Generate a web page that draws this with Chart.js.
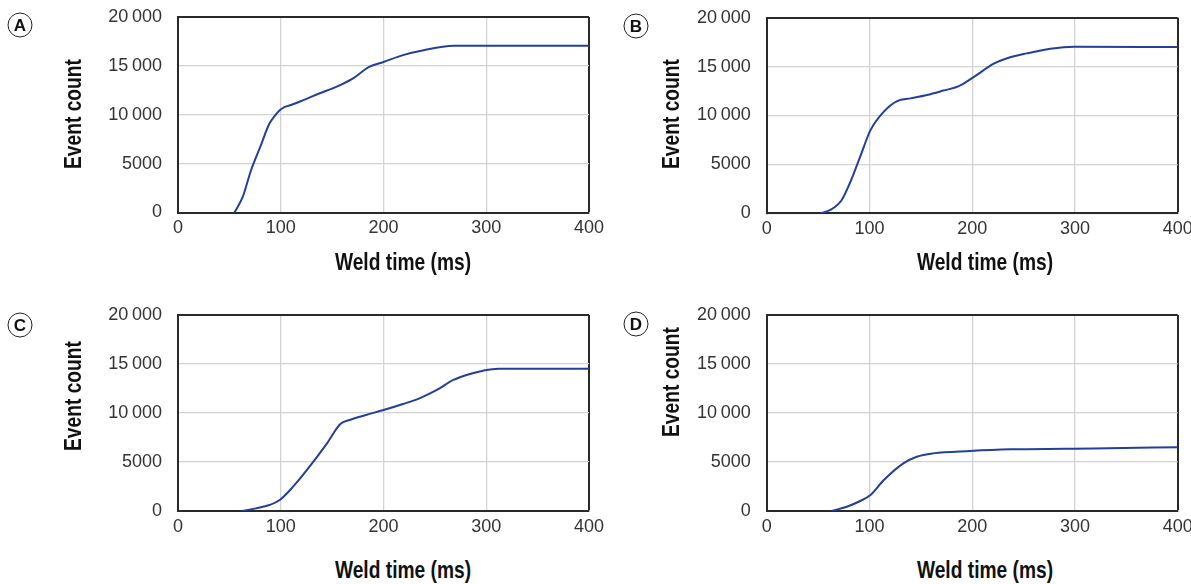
<!DOCTYPE html>
<html>
<head>
<meta charset="utf-8">
<script src="https://cdn.jsdelivr.net/npm/chart.js@4/dist/chart.umd.min.js"></script>
<style>
    body { margin: 0; background: #fff; width: 1191px; height: 584px; position: relative; overflow: hidden; }
    canvas { position: absolute; }
    .painel-letra {
        position: absolute; width: 23px; height: 23px; border: 1.4px solid #222; border-radius: 50%;
        font: bold 17px 'Liberation Sans', Arial, sans-serif; color: #111;
        display: flex; align-items: center; justify-content: center;
        transform: translate(-50%, -50%);
    }
    .titulo-eixo {
        position: absolute; white-space: nowrap; color: #111;
        font: bold 24px 'Liberation Sans', Arial, sans-serif;
    }
    .titulo-y { transform: translate(-50%, -50%) rotate(-90deg) scaleX(0.8); }
    .titulo-x { transform: translate(-50%, -50%) scaleX(0.8); }
</style>
</head>
<body>
<canvas id="grafico-a" width="610" height="250" style="left:0;top:0"></canvas>
<canvas id="grafico-b" width="591" height="250" style="left:600px;top:0"></canvas>
<canvas id="grafico-c" width="610" height="250" style="left:0;top:295px"></canvas>
<canvas id="grafico-d" width="591" height="250" style="left:600px;top:295px"></canvas>

<div class="painel-letra" style="left:20px;top:25px">A</div>
<div class="painel-letra" style="left:636px;top:26px">B</div>
<div class="painel-letra" style="left:20px;top:325px">C</div>
<div class="painel-letra" style="left:636px;top:324px">D</div>

<div class="titulo-eixo titulo-y" style="left:73px;top:114px">Event count</div>
<div class="titulo-eixo titulo-y" style="left:671px;top:114px">Event count</div>
<div class="titulo-eixo titulo-y" style="left:73px;top:396px">Event count</div>
<div class="titulo-eixo titulo-y" style="left:671px;top:382px">Event count</div>
<div class="titulo-eixo titulo-x" style="left:403px;top:262px">Weld time (ms)</div>
<div class="titulo-eixo titulo-x" style="left:985px;top:262px">Weld time (ms)</div>
<div class="titulo-eixo titulo-x" style="left:403px;top:570px">Weld time (ms)</div>
<div class="titulo-eixo titulo-x" style="left:985px;top:570px">Weld time (ms)</div>

<script>
const weldTimeA = [55, 63, 71, 80, 89, 94, 99, 104, 110, 122, 138, 154, 170, 186, 200, 219, 239, 268, 300, 400];
const eventCountA = [0, 1600, 4300, 6700, 9100, 9850, 10450, 10800, 11000, 11500, 12200, 12850, 13700, 14900, 15400, 16100, 16600, 17050, 17070, 17070];

const weldTimeB = [52, 62, 73, 81, 91, 101, 114, 127, 140, 156, 172, 187, 201, 221, 234, 253, 276, 299, 400];
const eventCountB = [0, 340, 1360, 3100, 5800, 8500, 10400, 11480, 11750, 12100, 12550, 13000, 13900, 15300, 15850, 16350, 16830, 17040, 17000];

const weldTimeC = [62, 76, 89, 99, 112, 128, 145, 158, 167, 183, 200, 219, 235, 252, 268, 284, 297, 312, 400];
const eventCountC = [0, 270, 610, 1120, 2480, 4520, 6900, 8880, 9290, 9800, 10300, 10920, 11500, 12350, 13370, 13980, 14320, 14520, 14520];

const weldTimeD = [63, 78, 91, 101, 114, 133, 146, 162, 198, 237, 318, 400];
const eventCountD = [0, 440, 1020, 1630, 3160, 4860, 5540, 5880, 6120, 6290, 6390, 6500];

const X_MAX = 400;
const Y_MAX = 20000;

const FONTE = "'Liberation Sans', Arial, sans-serif";
const COR_LINHA = '#22409a';
const COR_GRADE = '#d3d3d3';
const COR_BORDA = '#2a2a2a';

function formatarContagem(valor) {
    if (valor >= 10000) {
        return Math.floor(valor / 1000) + '\u2009' + String(valor % 1000).padStart(3, '0');
    }
    return String(valor);
}

// o Chart.js soma folgas próprias; corrige o padding até a área bater com a referência
function ajustarArea(grafico, caixa) {
    const padding = grafico.options.layout.padding;
    for (let i = 0; i < 3; i++) {
        padding.top += caixa.topo - grafico.chartArea.top;
        padding.right += grafico.chartArea.right - caixa.direita;
        grafico.update();
    }
}

function criarGrafico(idCanvas, tempos, contagens, caixa) {
    const canvas = document.getElementById(idCanvas);
    const pontos = tempos.map((t, i) => ({ x: t, y: contagens[i] }));

    const grafico = new Chart(canvas, {
        type: 'line',
        data: {
            datasets: [{
                data: pontos,
                borderColor: COR_LINHA,
                borderWidth: 2,
                pointRadius: 0,
                fill: false,
                cubicInterpolationMode: 'monotone',
            }],
        },
        options: {
            responsive: false,
            animation: false,
            devicePixelRatio: 1,
            layout: { padding: { left: 0, top: caixa.topo, right: canvas.width - caixa.direita, bottom: 0 } },
            plugins: { legend: { display: false }, tooltip: { enabled: false } },
            scales: {
                x: {
                    type: 'linear',
                    min: 0,
                    max: X_MAX,
                    afterFit: (escala) => {
                        escala.height = canvas.height - caixa.base;
                        escala.paddingLeft = 0;
                        escala.paddingRight = 0;
                    },
                    ticks: { stepSize: 100, padding: 5, color: '#333', font: { family: FONTE, size: 18 } },
                    grid: {
                        drawTicks: false,
                        color: (ctx) => (ctx.tick && ctx.tick.value === X_MAX ? COR_BORDA : COR_GRADE),
                        lineWidth: (ctx) => (ctx.tick && ctx.tick.value === X_MAX ? 2 : 1.3),
                    },
                    border: { color: COR_BORDA, width: 2 },
                },
                y: {
                    min: 0,
                    max: Y_MAX,
                    afterFit: (escala) => {
                        escala.width = caixa.esquerda;
                        escala.paddingTop = 0;
                        escala.paddingBottom = 0;
                    },
                    ticks: {
                        stepSize: 5000,
                        padding: 16,
                        color: '#333',
                        font: { family: FONTE, size: 18 },
                        callback: (valor) => formatarContagem(valor),
                    },
                    grid: {
                        drawTicks: false,
                        color: (ctx) => (ctx.tick && ctx.tick.value === Y_MAX ? COR_BORDA : COR_GRADE),
                        lineWidth: (ctx) => (ctx.tick && ctx.tick.value === Y_MAX ? 2 : 1.3),
                    },
                    border: { color: COR_BORDA, width: 2 },
                },
            },
        },
    });

    ajustarArea(grafico, caixa);
}

// caixa: limites da área do gráfico, em px do próprio canvas
criarGrafico('grafico-a', weldTimeA, eventCountA, { esquerda: 178, topo: 17, direita: 589, base: 212.5 });
criarGrafico('grafico-b', weldTimeB, eventCountB, { esquerda: 166.7, topo: 17.7, direita: 577.7, base: 213.3 });
criarGrafico('grafico-c', weldTimeC, eventCountC, { esquerda: 178, topo: 20, direita: 589, base: 216 });
criarGrafico('grafico-d', weldTimeD, eventCountD, { esquerda: 166.7, topo: 20, direita: 577.7, base: 216 });
</script>
</body>
</html>
